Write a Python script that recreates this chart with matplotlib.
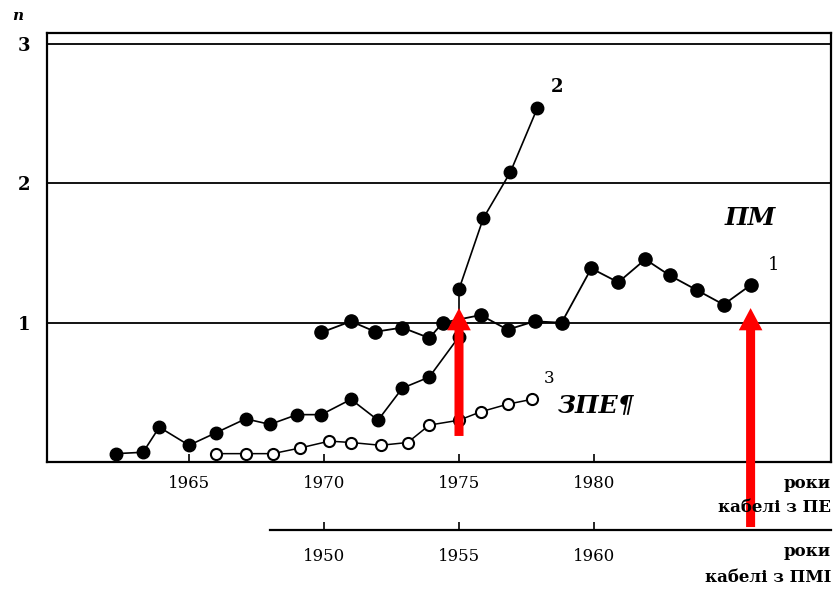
import matplotlib
matplotlib.use("Agg")
import matplotlib.pyplot as plt

# ---- data ----
years1 = [1969.9, 1971.0, 1971.9, 1972.9, 1973.9, 1974.4, 1975.8, 1976.8, 1977.8,
          1978.8, 1979.9, 1980.9, 1981.9, 1982.8, 1983.8, 1984.8, 1985.8]
vals1 = [0.93, 1.01, 0.935, 0.965, 0.89, 1.00, 1.055, 0.95, 1.01,
         1.00, 1.39, 1.29, 1.455, 1.34, 1.235, 1.13, 1.27]

years2 = [1962.3, 1963.3, 1963.9, 1965.0, 1966.0, 1967.1, 1968.0, 1969.0, 1969.9,
          1971.0, 1972.0, 1972.9, 1973.9, 1975.0, 1975.0, 1975.9, 1976.9, 1977.9]
vals2 = [0.06, 0.07, 0.25, 0.12, 0.21, 0.31, 0.27, 0.34, 0.34,
         0.45, 0.30, 0.53, 0.61, 0.90, 1.24, 1.75, 2.08, 2.54]

years3 = [1966.0, 1967.1, 1968.1, 1969.1, 1970.2, 1971.0, 1972.1, 1973.1, 1973.9,
          1975.0, 1975.8, 1976.8, 1977.7]
vals3 = [0.06, 0.06, 0.06, 0.10, 0.15, 0.14, 0.12, 0.14, 0.265,
         0.30, 0.36, 0.415, 0.45]

xticks_pe = [1965, 1970, 1975, 1980]
xticks_pmi = [1950, 1955, 1960]
yticks = [1, 2, 3]
arrow_years = [1975.0, 1985.8]

SERIF = ["DejaVu Serif"]
W, H = 835, 590

def fx(px):
    return px / W

def fy(py):
    return 1 - py / H

fig = plt.figure(figsize=(8.35, 5.9), dpi=100)
fig.patch.set_facecolor("white")

x0 = 1965 + (47 - 189) / 27.0
x1 = 1965 + (831 - 189) / 27.0

ax = fig.add_axes([fx(47), fy(462), fx(831) - fx(47), fy(33) - fy(462)])
ax.set_xlim(x0, x1)
ax.set_ylim(0, 3.08)
ax.set_zorder(2)

for s in ["left", "bottom", "right", "top"]:
    ax.spines[s].set_linewidth(1.6)
    ax.spines[s].set_color("black")

for yv in yticks:
    ax.axhline(yv, color="black", lw=1.3, zorder=1)

ax.set_xticks(xticks_pe)
ax.set_xticklabels([str(v) for v in xticks_pe], fontfamily=SERIF, fontsize=12)
ax.tick_params(axis="x", direction="in", length=6, width=1.2, pad=9)
ax.set_yticks(yticks)
ax.set_yticklabels([str(v) for v in yticks], fontfamily=SERIF, fontsize=13,
                   fontweight="bold")
ax.tick_params(axis="y", length=0, pad=12)

ax.plot(years2, vals2, color="black", lw=1.2, marker="o", ms=9,
        mfc="black", mec="black", zorder=3)
ax.plot(years1, vals1, color="black", lw=1.3, marker="o", ms=9.5,
        mfc="black", mec="black", zorder=3)
ax.plot(years3, vals3, color="black", lw=1.1, marker="o", ms=8,
        mfc="white", mec="black", mew=1.5, zorder=3)

ax.text(1978.63, 2.69, "2", fontfamily=SERIF, fontsize=13, fontweight="bold",
        ha="center", va="center")
ax.text(1986.63, 1.414, "1", fontfamily=SERIF, fontsize=13,
        ha="center", va="center")
ax.text(1978.33, 0.603, "3", fontfamily=SERIF, fontsize=12,
        ha="center", va="center")
ax.text(1985.78, 1.75, "ПМ", fontfamily=SERIF, fontsize=18, fontweight="bold",
        fontstyle="italic", ha="center", va="center")
ax.text(1980.07, 0.41, "ЗПЕ¶", fontfamily=SERIF, fontsize=18, fontweight="bold",
        fontstyle="italic", ha="center", va="center")

# red arrows
arrow_bottoms = [0.187, -0.467]
for xa, yb in zip(arrow_years, arrow_bottoms):
    ann = ax.annotate("", xy=(xa, 1.105), xytext=(xa, yb),
                      arrowprops=dict(facecolor="#ff0000", edgecolor="none",
                                      width=6.5, headwidth=17, headlength=16,
                                      shrink=0),
                      annotation_clip=False, zorder=6)
    ann.arrow_patch.set_clip_on(False)

# secondary axis (ПМІ cables)
ax2 = fig.add_axes([fx(270), fy(530), fx(831) - fx(270), 0.0005])
ax2.set_zorder(1)
ax2.set_xlim(1965 + (270 - 189) / 27.0 - 20, x1 - 20)
ax2.set_ylim(0, 1)
for s in ["left", "right", "top"]:
    ax2.spines[s].set_visible(False)
ax2.spines["bottom"].set_linewidth(1.6)
ax2.set_yticks([])
ax2.set_xticks(xticks_pmi)
ax2.set_xticklabels([str(v) for v in xticks_pmi], fontfamily=SERIF, fontsize=12)
ax2.tick_params(axis="x", direction="in", length=6, width=1.2, pad=13)
ax2.patch.set_visible(False)

# axis captions
fig.text(fx(831), fy(483), "роки", fontfamily=SERIF, fontsize=12,
         fontweight="bold", ha="right", va="center")
fig.text(fx(831), fy(508), "кабелі з ПЕ", fontfamily=SERIF, fontsize=12,
         fontweight="bold", ha="right", va="center")
fig.text(fx(831), fy(552), "роки", fontfamily=SERIF, fontsize=12,
         fontweight="bold", ha="right", va="center")
fig.text(fx(831), fy(578), "кабелі з ПМІ", fontfamily=SERIF, fontsize=12,
         fontweight="bold", ha="right", va="center")
fig.text(fx(18), fy(16), "n", fontfamily=SERIF, fontsize=11,
         fontstyle="italic", fontweight="bold", ha="center", va="center")

fig.savefig("out.png", dpi=100)
